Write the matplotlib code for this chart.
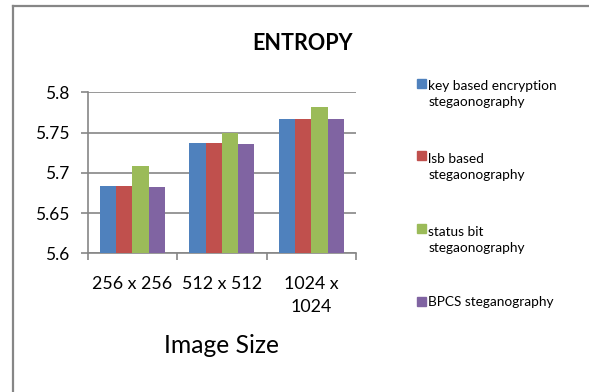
import matplotlib
matplotlib.use('Agg')
import matplotlib.pyplot as plt
import matplotlib.patches as mpatches
import numpy as np

plt.rcParams['font.family'] = ['Lato', 'DejaVu Sans']

# data
sizes = ['256 x 256', '512 x 512', '1024 x\n1024']
series_names = ['key based encryption\nstegaonography',
                'lsb based\nstegaonography',
                'status bit\nstegaonography',
                'BPCS steganography']
key_based = [5.6836, 5.7370, 5.7670]
lsb_based = [5.6836, 5.7366, 5.7666]
status_bit = [5.7085, 5.7498, 5.7813]
bpcs = [5.6820, 5.7354, 5.7664]
colors = ['#4F81BD', '#C0504D', '#9BBB59', '#8064A2']

W, H = 589, 392
fig = plt.figure(figsize=(W / 100, H / 100), dpi=100)
fig.patch.set_facecolor('white')

# outer chart border (only top/left visible, cropped at right/bottom)
fig.add_artist(plt.Line2D([12.5 / W, 12.5 / W], [0, 1 - 6 / H], color='#868686', lw=1.6))
fig.add_artist(plt.Line2D([12.5 / W, 1], [1 - 6 / H, 1 - 6 / H], color='#868686', lw=1.6))

ax = fig.add_axes([87.7 / W, 1 - 253.3 / H, (356 - 87.7) / W, (253.3 - 92.3) / H])

x = np.arange(len(sizes))
bw = 0.1816
all_series = [key_based, lsb_based, status_bit, bpcs]
for i, vals in enumerate(all_series):
    ax.bar(x + (i - 1.5) * bw, vals, bw, color=colors[i], zorder=3, linewidth=0)

ax.set_xlim(-0.5, len(sizes) - 0.5)
ax.set_ylim(5.6, 5.8)
ax.set_yticks([5.6, 5.65, 5.7, 5.75, 5.8])
ax.set_yticklabels(['5.6', '5.65', '5.7', '5.75', '5.8'])
ax.yaxis.grid(True, color='#868686', lw=1.2, zorder=0)

# category ticks between groups, labels centred on groups
ax.set_xticks(np.arange(-0.5, len(sizes)), minor=False)
ax.set_xticklabels([])
ax.set_xticks(x, minor=True)
ax.set_xticklabels(sizes, minor=True, fontsize=12.8, linespacing=1.57)
ax.tick_params(axis='x', which='minor', length=0, pad=16)
ax.tick_params(axis='x', which='major', length=5, width=1.2, color='#868686')
ax.tick_params(axis='y', length=5, width=1.2, color='#868686', labelsize=12.5, pad=8)

for s in ['top', 'right']:
    ax.spines[s].set_visible(False)
for s in ['left', 'bottom']:
    ax.spines[s].set_color('#868686')
    ax.spines[s].set_linewidth(1.2)
ax.set_facecolor('white')

fig.text(303 / W, 1 - 50.5 / H, 'ENTROPY', ha='center', va='baseline',
         fontsize=15.5, fontweight='bold')
fig.text(221 / W, 1 - 353 / H, 'Image Size', ha='center', va='baseline', fontsize=17.7)

# legend: square lined up with the first line of each entry
line_h = 18.5
for i, name in enumerate(series_names):
    yc = 83 + 72.8 * i
    fig.add_artist(mpatches.Rectangle((417 / W, 1 - (yc + 4.5) / H), 9 / W, 9 / H,
                                      color=colors[i], transform=fig.transFigure))
    n_lines = name.count('\n') + 1
    y_base = yc + 4.5 + (n_lines - 1) * line_h
    fig.text(428.5 / W, 1 - y_base / H, name, ha='left', va='baseline',
             fontsize=9.8, linespacing=1.39)

fig.savefig('out.png', dpi=100, facecolor='white')
